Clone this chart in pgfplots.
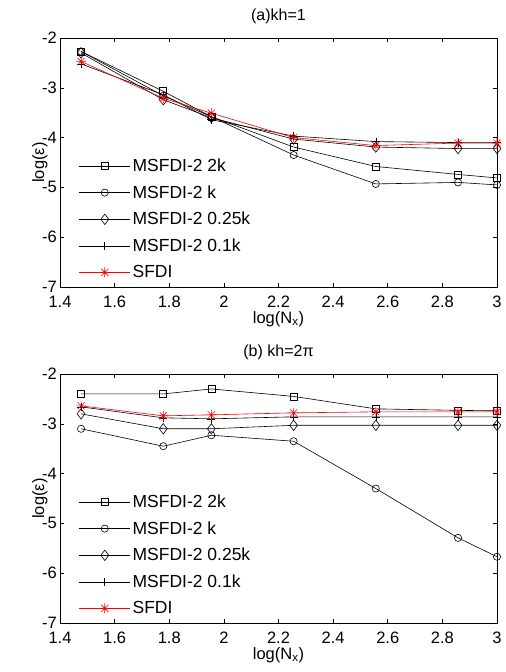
\documentclass[border=0pt]{standalone}
\usepackage{pgfplots}
\pgfplotsset{compat=1.18}
\usepackage{fontspec}
\setmainfont{Liberation Sans}
\pgfdeclareplotmark{mstar}{%
  \pgfpathmoveto{\pgfqpoint{-\pgfplotmarksize}{0pt}}\pgfpathlineto{\pgfqpoint{\pgfplotmarksize}{0pt}}%
  \pgfpathmoveto{\pgfqpoint{0pt}{-\pgfplotmarksize}}\pgfpathlineto{\pgfqpoint{0pt}{\pgfplotmarksize}}%
  \pgfpathmoveto{\pgfqpoint{-0.707\pgfplotmarksize}{-0.707\pgfplotmarksize}}\pgfpathlineto{\pgfqpoint{0.707\pgfplotmarksize}{0.707\pgfplotmarksize}}%
  \pgfpathmoveto{\pgfqpoint{-0.707\pgfplotmarksize}{0.707\pgfplotmarksize}}\pgfpathlineto{\pgfqpoint{0.707\pgfplotmarksize}{-0.707\pgfplotmarksize}}%
  \pgfusepathqstroke}
\pgfplotsset{
  mstyle/.style={
    scale only axis, width=437pt, height=249pt,
    xmin=1.4, xmax=3, ymin=-7, ymax=-2,
    xtick={1.4,1.6,1.8,2,2.2,2.4,2.6,2.8,3},
    xticklabels={1.4,1.6,1.8,2,2.2,2.4,2.6,2.8,3},
    ytick={-7,-6,-5,-4,-3,-2},
    yticklabels={-7,-6,-5,-4,-3,-2},
    tick align=inside, major tick length=4pt,
    axis line style={line width=0.9pt},
    tick style={line width=0.6pt, black},
    ticklabel style={font=\fontsize{16.5}{18}\selectfont, inner sep=0pt},
    xticklabel style={anchor=north, yshift=-9pt},
    yticklabel style={anchor=east, xshift=-3pt},
    label style={font=\fontsize{16.5}{18}\selectfont},
    title style={font=\fontsize{16}{18}\selectfont, inner sep=0pt, anchor=south, yshift=-1pt},
    xlabel={log(N\textsubscript{x})},
    ylabel={log(ε)},
    xlabel style={inner sep=0pt, anchor=north, yshift=-3pt},
    ylabel style={yshift=-9pt},
    legend style={draw=none, fill=none, at={(0.043,0.022)}, anchor=south west,
      font=\fontsize{17.5}{20}\selectfont, row sep=8.5pt, inner xsep=0pt, inner ysep=0pt},
    legend cell align=left,
    legend image code/.code={%
      \draw[##1,mark=none] (0pt,0pt) -- (51pt,0pt);
      \draw[##1,only marks] plot coordinates {(25.5pt,0pt)};},
    every axis plot/.append style={line width=0.6pt},
  },
  s2k/.style={black, mark=square, mark size=3.5pt, mark options={solid}},
  sk/.style={black, mark=o, mark size=3.6pt},
  sq/.style={black, mark=diamond, mark size=5.2pt},
  sp/.style={black, mark=+, mark size=4pt},
  ss/.style={red, mark=mstar, mark size=5pt},
}
\begin{document}
\begin{tikzpicture}
\useasboundingbox (-60pt,-49pt) rectangle (446pt,623pt);
\begin{axis}[mstyle, at={(0pt,336pt)}, anchor=south west, title={(a)kh=1}, title style={at={(0.5,1)}, yshift=9pt}]
\addplot[s2k] coordinates {(1.4771,-2.27) (1.7782,-3.07) (1.9542,-3.58) (2.2553,-4.19) (2.5563,-4.58) (2.8573,-4.74) (3.0,-4.81)};
\addplot[sk] coordinates {(1.4771,-2.27) (1.7782,-3.16) (1.9542,-3.58) (2.2553,-4.35) (2.5563,-4.93) (2.8573,-4.90) (3.0,-4.95)};
\addplot[sq] coordinates {(1.4771,-2.30) (1.7782,-3.24) (1.9542,-3.60) (2.2553,-4.03) (2.5563,-4.19) (2.8573,-4.22) (3.0,-4.22)};
\addplot[sp] coordinates {(1.4771,-2.52) (1.7782,-3.14) (1.9542,-3.64) (2.2553,-3.97) (2.5563,-4.08) (2.8573,-4.10) (3.0,-4.10)};
\addplot[ss] coordinates {(1.4771,-2.47) (1.7782,-3.21) (1.9542,-3.51) (2.2553,-4.00) (2.5563,-4.16) (2.8573,-4.11) (3.0,-4.11)};
\legend{MSFDI-2 2k, MSFDI-2 k, MSFDI-2 0.25k, MSFDI-2 0.1k, SFDI}
\end{axis}
\begin{axis}[mstyle, at={(0pt,0pt)}, anchor=south west, title={(b) kh=2π}, title style={at={(0.5,1)}, yshift=9pt}]
\addplot[s2k] coordinates {(1.4771,-2.40) (1.7782,-2.40) (1.9542,-2.30) (2.2553,-2.45) (2.5563,-2.70) (2.8573,-2.73) (3.0,-2.74)};
\addplot[sk] coordinates {(1.4771,-3.10) (1.7782,-3.45) (1.9542,-3.23) (2.2553,-3.35) (2.5563,-4.30) (2.8573,-5.29) (3.0,-5.67)};
\addplot[sq] coordinates {(1.4771,-2.80) (1.7782,-3.10) (1.9542,-3.10) (2.2553,-3.03) (2.5563,-3.03) (2.8573,-3.03) (3.0,-3.03)};
\addplot[sp] coordinates {(1.4771,-2.66) (1.7782,-2.88) (1.9542,-2.90) (2.2553,-2.86) (2.5563,-2.86) (2.8573,-2.86) (3.0,-2.86)};
\addplot[ss] coordinates {(1.4771,-2.64) (1.7782,-2.84) (1.9542,-2.82) (2.2553,-2.78) (2.5563,-2.76) (2.8573,-2.76) (3.0,-2.76)};
\legend{MSFDI-2 2k, MSFDI-2 k, MSFDI-2 0.25k, MSFDI-2 0.1k, SFDI}
\end{axis}
\end{tikzpicture}
\end{document}
